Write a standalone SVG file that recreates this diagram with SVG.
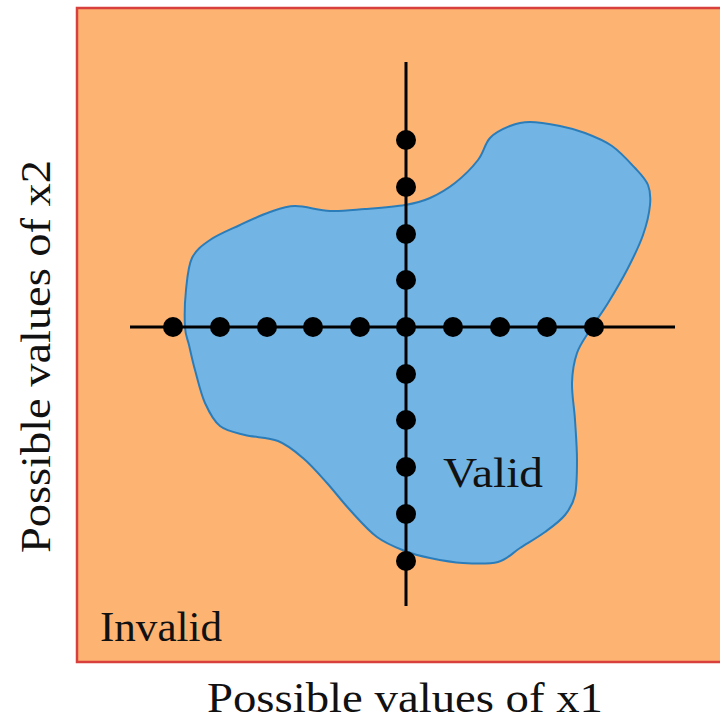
<svg xmlns="http://www.w3.org/2000/svg" width="720" height="722" viewBox="0 0 720 722">
<style>
.lbl{font-family:"Liberation Serif","DejaVu Serif",serif;font-size:43px;fill:#111}
.axis{stroke:#000;stroke-width:3;fill:none}
.pt{fill:#000}
</style>
<defs>
<circle id="dot" r="10" class="pt"/>
</defs>
<rect width="720" height="722" fill="#fff"/>
<g id="invalid-region">
<rect x="77" y="8" width="660" height="654" fill="#FDB372" stroke="#D8403E" stroke-width="2.5"/>
<text class="lbl" x="100" y="641" textLength="122" lengthAdjust="spacingAndGlyphs">Invalid</text>
</g>
<g id="valid-region">
<path d="M185,327 C184.5,317.8 184.8,301.5 186,290 S188,266.3 192,258 S202,245.5 210,240 S230,229.7 240,225 S260.8,215.2 270,212 S285,206.2 295,206 S318.3,210.5 330,211 S352.5,210 365,209 S394.2,206.8 405,205 S421.7,201.7 430,198 S447,189.3 455,183 S472.2,167.5 478,160 S484.7,143.7 490,138 S503.3,128.7 510,126 S521.7,122 530,122 S550.8,124.2 560,126 S576.3,129.7 585,133 S603.7,140.2 612,146 S629,161.5 635,168 S645.5,178.8 648,185 S650.8,196.7 650,205 S646.7,224.5 643,235 S633.8,256.7 628,268 S614.3,292.7 608,303 S595.2,321.7 590,330 S580,344.2 577,353 S572.3,371.8 572,383 S574.2,407.2 575,420 S577,447.5 577,460 S577,485.8 575,495 S570,508.8 565,515 S552.5,526.5 545,532 S527.8,543 520,548 S507.5,559.5 498,562 S474.3,563.7 463,563 S439.7,560 430,558 S413.8,554.5 405,551 S386.2,543.8 377,537 S358.3,519 350,510 S334.8,491.7 327,483 S311.2,465 303,458 S287.7,444.8 278,441 S254.7,437.5 245,435 S226.7,431.3 220,426 S209.2,412.3 205,403 S197.7,379.7 195,370 S190.7,352.2 189,345 S185.5,336.2 185,327 Z" fill="#72B5E4" stroke="#2B7DBA" stroke-width="2"/>
<text class="lbl" x="443" y="487" textLength="100" lengthAdjust="spacingAndGlyphs">Valid</text>
</g>
<g id="connectors">
<line class="axis" x1="130" y1="327" x2="675" y2="327"/>
<line class="axis" x1="406" y1="62" x2="406" y2="606"/>
</g>
<g id="x1-samples">
<use href="#dot" x="173" y="327"/>
<use href="#dot" x="220" y="327"/>
<use href="#dot" x="267" y="327"/>
<use href="#dot" x="313" y="327"/>
<use href="#dot" x="360" y="327"/>
<use href="#dot" x="453" y="327"/>
<use href="#dot" x="500" y="327"/>
<use href="#dot" x="547" y="327"/>
<use href="#dot" x="594" y="327"/>
</g>
<g id="x2-samples">
<use href="#dot" x="406" y="140"/>
<use href="#dot" x="406" y="187"/>
<use href="#dot" x="406" y="234"/>
<use href="#dot" x="406" y="280"/>
<use href="#dot" x="406" y="327"/>
<use href="#dot" x="406" y="374"/>
<use href="#dot" x="406" y="420"/>
<use href="#dot" x="406" y="467"/>
<use href="#dot" x="406" y="514"/>
<use href="#dot" x="406" y="561"/>
</g>
<g id="axis-labels">
<text class="lbl" x="207" y="712" textLength="396" lengthAdjust="spacingAndGlyphs">Possible values of x1</text>
<text class="lbl" transform="translate(50,553) rotate(-90)" x="0" y="0" textLength="393" lengthAdjust="spacingAndGlyphs">Possible values of x2</text>
</g>
</svg>
